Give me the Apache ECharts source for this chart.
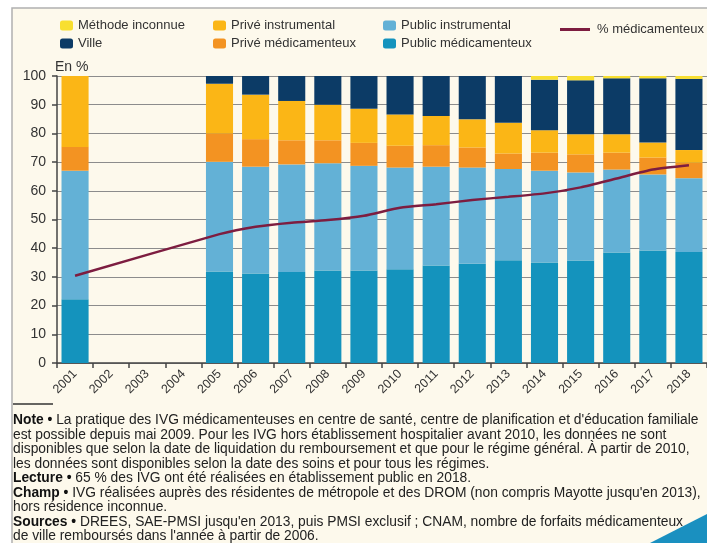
<!DOCTYPE html>
<html>
<head>
<meta charset="utf-8">
<script src="https://cdn.jsdelivr.net/npm/echarts@6/dist/echarts.min.js"></script>
<style>
html, body { margin: 0; padding: 0; background: #fff; }
#chart { width: 707px; height: 543px; }
</style>
</head>
<body>
<div id="chart"></div>
<script>
// IVG selon le lieu et la méthode (en %)
const years = ['2001', '2002', '2003', '2004', '2005', '2006', '2007', '2008', '2009',
  '2010', '2011', '2012', '2013', '2014', '2015', '2016', '2017', '2018'];
const publicMed   = [22.2, null, null, null, 31.9, 31.2, 31.7, 32.2, 32.2, 32.7, 34.0, 34.6, 35.8, 35.0, 35.7, 38.5, 39.2, 38.7];
const publicInstr = [44.8, null, null, null, 38.2, 37.2, 37.5, 37.4, 36.5, 35.4, 34.4, 33.5, 31.8, 32.0, 30.7, 28.9, 26.5, 25.7];
const priveMed    = [8.3, null, null, null, 9.9, 9.6, 8.4, 8.0, 8.0, 7.6, 7.5, 7.0, 5.4, 6.3, 6.3, 5.9, 5.9, 5.4];
const priveInstr  = [24.7, null, null, null, 17.3, 15.5, 13.7, 12.4, 11.9, 10.9, 10.2, 9.8, 10.7, 7.8, 7.0, 6.4, 5.2, 4.4];
const ville       = [0, null, null, null, 2.7, 6.5, 8.7, 10.0, 11.4, 13.4, 13.9, 15.1, 16.3, 17.6, 18.8, 19.5, 22.4, 24.8];
const inconnue    = [0, null, null, null, 0, 0, 0, 0, 0, 0, 0, 0, 0, 1.3, 1.5, 0.8, 0.8, 1.0];
const pctMed      = [30.4, null, null, null, 44.9, 47.5, 48.9, 49.8, 51.3, 54.1, 55.3, 56.8, 57.9, 59.1, 61.2, 64.3, 67.4, 68.9];
const yTicks = { min: 0, max: 100, interval: 10 };

const font = 'Liberation Sans, Arial, sans-serif';
const noteLines = [
  '{b|Note •} La pratique des IVG médicamenteuses en centre de santé, centre de planification et d\'éducation familiale',
  'est possible depuis mai 2009. Pour les IVG hors établissement hospitalier avant 2010, les données ne sont',
  'disponibles que selon la date de liquidation du remboursement et que pour le régime général. À partir de 2010,',
  'les données sont disponibles selon la date des soins et pour tous les régimes.',
  '{b|Lecture •} 65 % des IVG ont été réalisées en établissement public en 2018.',
  '{b|Champ •} IVG réalisées auprès des résidentes de métropole et des DROM (non compris Mayotte jusqu\'en 2013),',
  'hors résidence inconnue.',
  '{b|Sources •} DREES, SAE-PMSI jusqu\'en 2013, puis PMSI exclusif ; CNAM, nombre de forfaits médicamenteux',
  'de ville remboursés dans l\'année à partir de 2006.'
];

function barSerie(name, data, color) {
  return {
    name: name, type: 'bar', stack: 'total', data: data,
    barCategoryGap: '25%',
    itemStyle: { color: color },
    emphasis: { disabled: true }
  };
}

const legendBase = {
  orient: 'vertical', itemWidth: 13, itemHeight: 10, itemGap: 5,
  textStyle: { fontFamily: font, fontSize: 13, color: '#333' },
  selectedMode: false
};

let myChart = echarts.init(document.getElementById('chart'));
myChart.setOption({
  animation: false,
  textStyle: { fontFamily: font },
  graphic: [
    { type: 'rect', z: -100, shape: { x: 12, y: 8, width: 700, height: 540 },
      style: { fill: '#fdf9ec', stroke: '#b0b0b0', lineWidth: 1.5 } },
    { type: 'text', left: 55, top: 60, style: { text: 'En %', font: '14px ' + font, fill: '#333' } },
    { type: 'line', shape: { x1: 13, y1: 404, x2: 53, y2: 404 }, style: { stroke: '#333', lineWidth: 1.5 } },
    { type: 'text', left: 13, top: 413,
      style: {
        text: noteLines.join('\n'),
        font: '13.8px ' + font, fill: '#222', lineHeight: 14.5,
        rich: { b: { fontWeight: 'bold', fontSize: 13.8, fontFamily: font, fill: '#111', lineHeight: 14.5 } }
      } },
    { type: 'polygon', shape: { points: [[650, 543], [707, 514], [707, 543]] }, style: { fill: '#1a90c0' } }
  ],
  legend: [
    Object.assign({ left: 55, top: 14, data: ['Méthode inconnue', 'Ville'] }, legendBase),
    Object.assign({ left: 208, top: 14, data: ['Privé instrumental', 'Privé médicamenteux'] }, legendBase),
    Object.assign({ left: 378, top: 14, data: ['Public instrumental', 'Public médicamenteux'] }, legendBase),
    Object.assign({}, legendBase, { left: 555, top: 18, itemWidth: 30, itemHeight: 3,
      textStyle: { fontFamily: font, fontSize: 13, color: '#333', padding: [0, 0, 0, 2] },
      data: [{ name: '% médicamenteux', icon: 'rect' }] })
  ],
  grid: { left: 57, top: 76, width: 654, height: 287, containLabel: false },
  xAxis: {
    type: 'category', data: years, boundaryGap: true,
    axisLine: { lineStyle: { color: '#444', width: 1.5 } },
    axisTick: { show: true, length: 5, lineStyle: { color: '#444', width: 1.5 } },
    axisLabel: { rotate: 45, fontSize: 12.5, color: '#333', margin: 9, interval: 0 }
  },
  yAxis: {
    type: 'value', min: yTicks.min, max: yTicks.max, interval: yTicks.interval,
    axisLine: { show: true, lineStyle: { color: '#444', width: 1.5 } },
    axisTick: { show: true, length: 5, lineStyle: { color: '#444', width: 1.5 } },
    axisLabel: { fontSize: 14, color: '#333', margin: 11 },
    splitLine: { lineStyle: { color: '#8c8c8c', width: 1.2 } }
  },
  series: [
    barSerie('Public médicamenteux', publicMed, '#1493bd'),
    barSerie('Public instrumental', publicInstr, '#63b1d6'),
    barSerie('Privé médicamenteux', priveMed, '#f39322'),
    barSerie('Privé instrumental', priveInstr, '#fbb616'),
    barSerie('Ville', ville, '#0c3b66'),
    barSerie('Méthode inconnue', inconnue, '#f8df30'),
    {
      name: '% médicamenteux', type: 'line', data: pctMed, connectNulls: true,
      symbol: 'none', smooth: 0.2, z: 5,
      lineStyle: { color: '#7d1d40', width: 2.5 },
      itemStyle: { color: '#7d1d40' },
      emphasis: { disabled: true }
    }
  ]
});
</script>
</body>
</html>
